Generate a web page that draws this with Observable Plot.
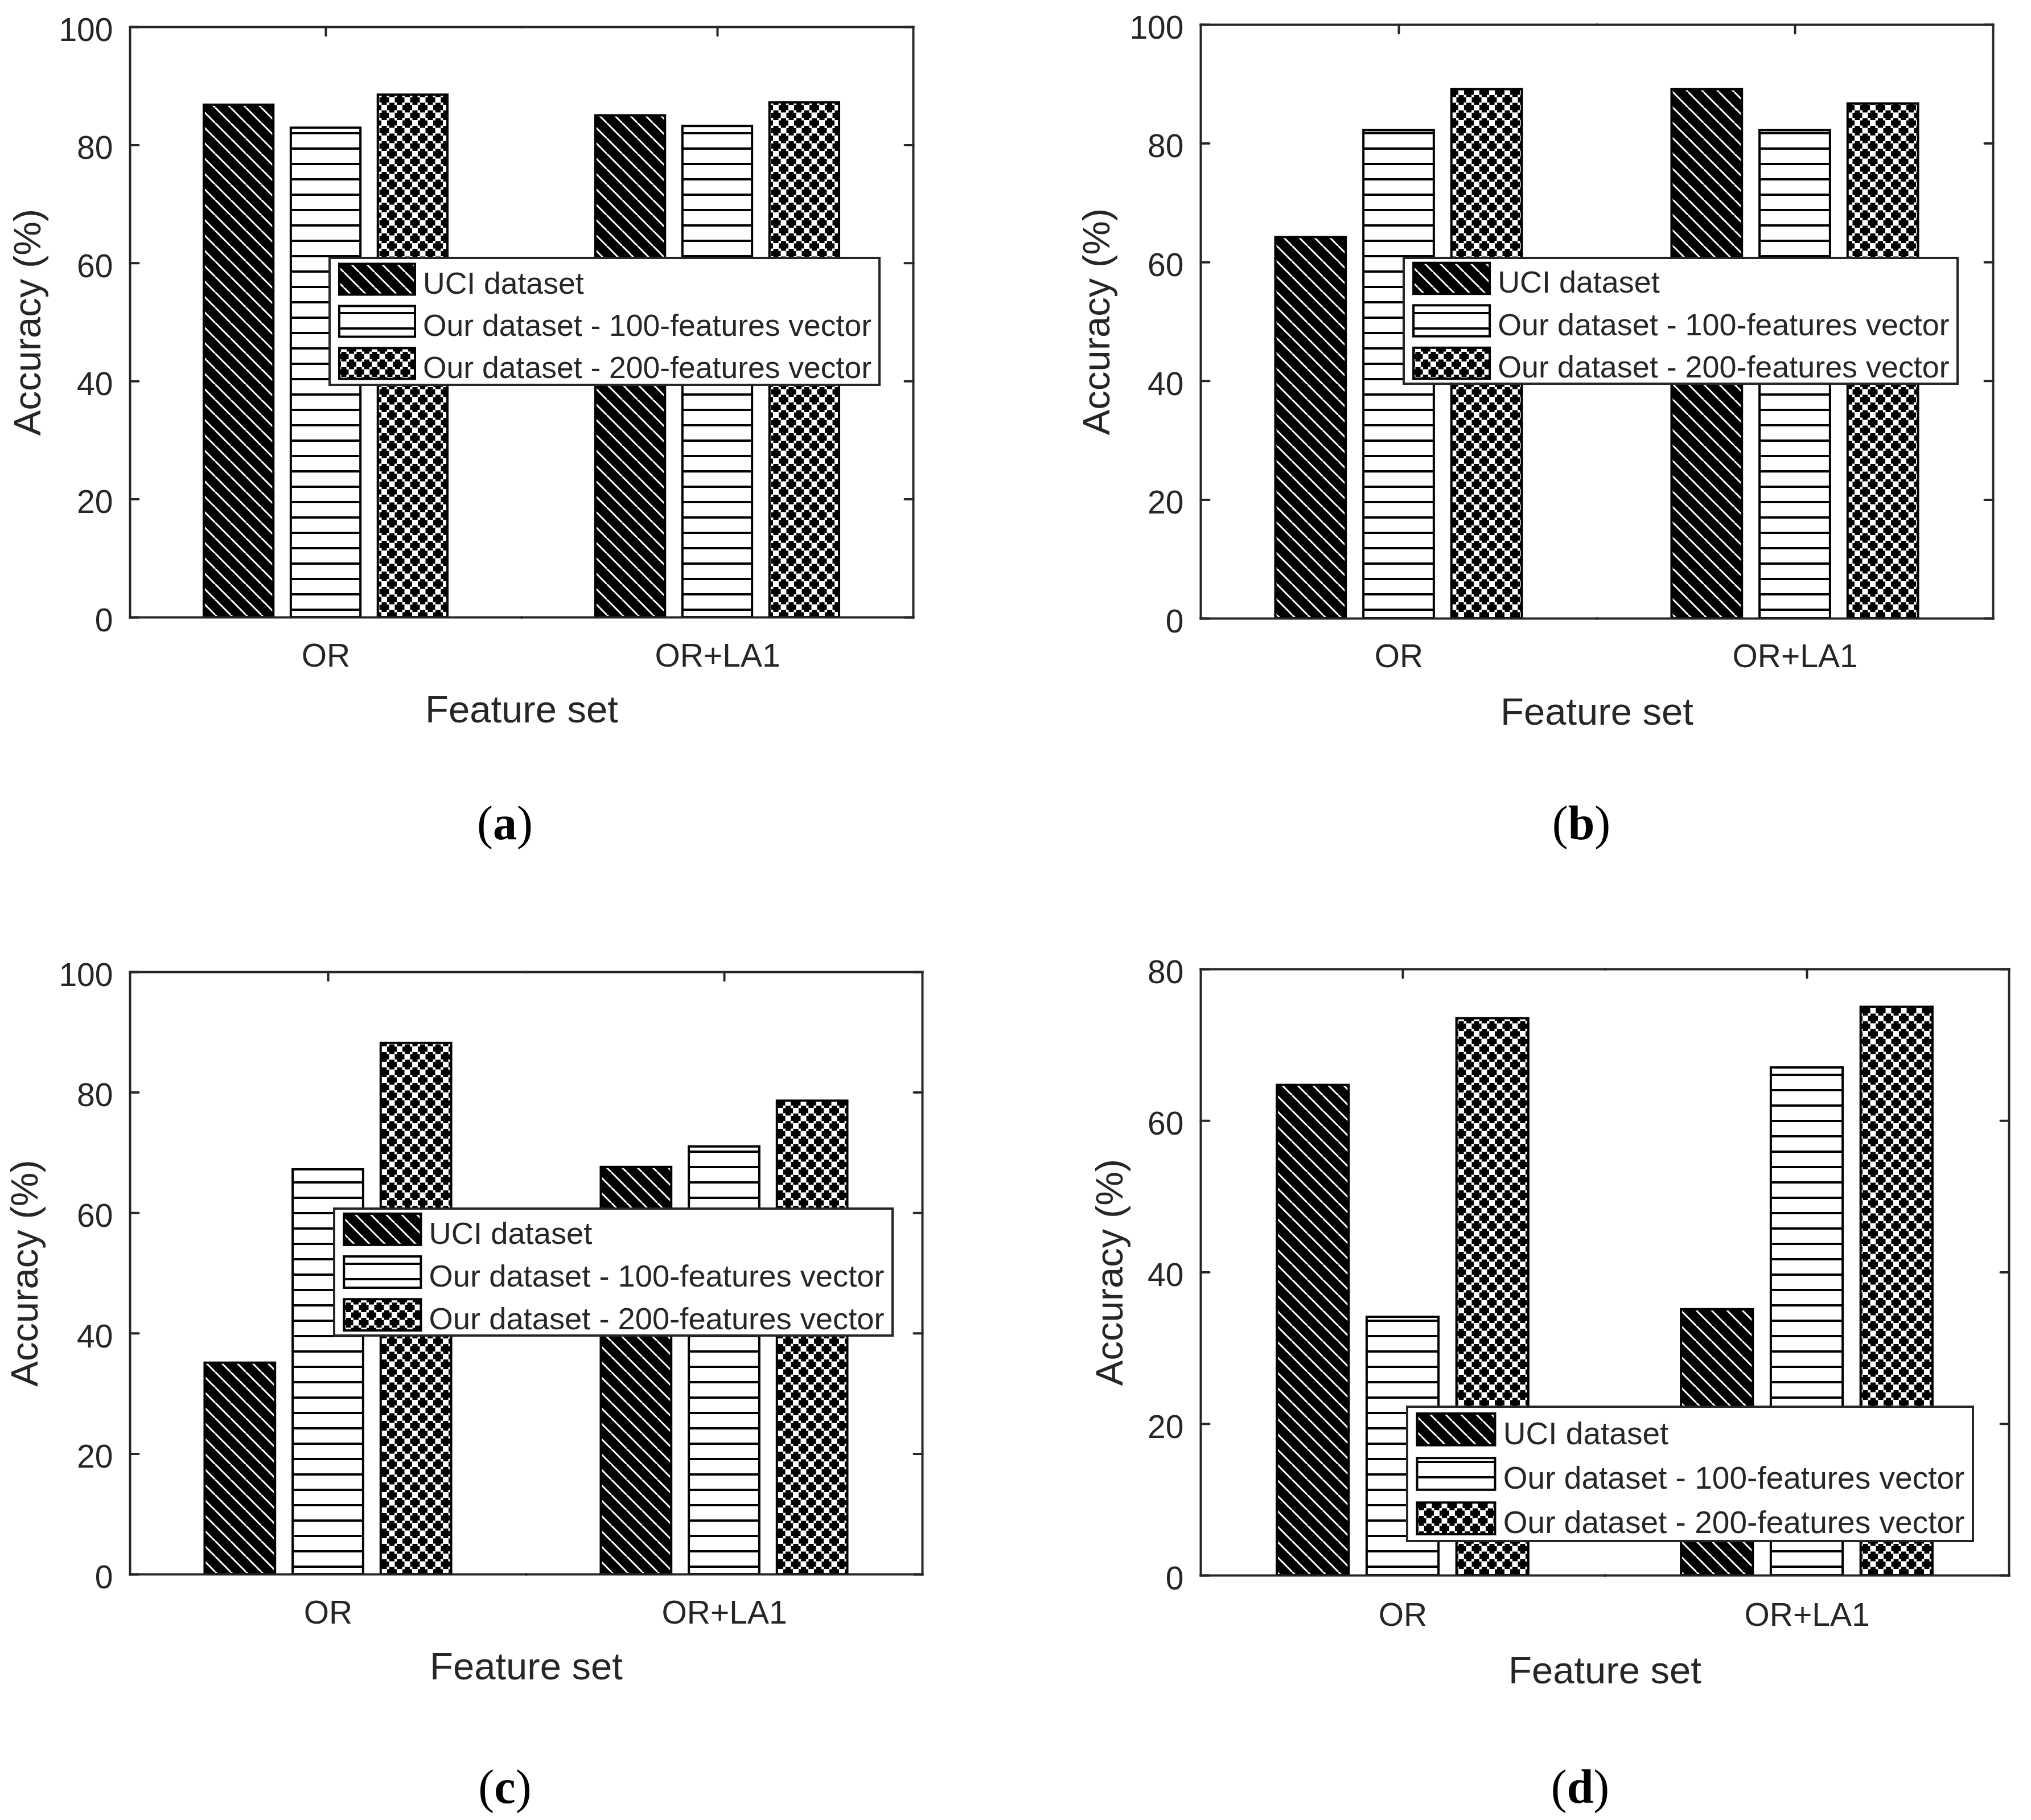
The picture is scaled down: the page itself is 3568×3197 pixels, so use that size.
<!DOCTYPE html>
<html>
<head>
<meta charset="utf-8">
<script src="https://cdn.jsdelivr.net/npm/d3@7"></script>
<script src="https://cdn.jsdelivr.net/npm/@observablehq/plot@0.6"></script>
<style>
html, body { margin: 0; padding: 0; background: #fff; }
#page { position: relative; width: 3568px; height: 3197px; background: #fff; overflow: hidden; }
.panel { position: absolute; }
.legend { position: absolute; }
.cap { position: absolute; font-family: "Liberation Serif", "Times New Roman", serif; font-size: 84px; line-height: 84px; color: #000; white-space: nowrap; transform: translateX(-50%); }
</style>
</head>
<body>
<div id="page">
<svg id="defs" width="0" height="0" style="position:absolute;left:0;top:0">
  <defs>
    <pattern id="pDiag" patternUnits="userSpaceOnUse" width="27" height="27">
      <rect width="27" height="27" fill="#000"/>
      <path d="M0,0L27,27M-27,0L0,27M27,0L54,27" stroke="#fff" stroke-width="3" fill="none"/>
    </pattern>
    <pattern id="pHoriz" patternUnits="userSpaceOnUse" width="27" height="27">
      <rect width="27" height="27" fill="#fff"/>
      <rect y="16" width="27" height="4" fill="#000"/>
    </pattern>
    <pattern id="pCross" patternUnits="userSpaceOnUse" width="27" height="27">
      <rect width="27" height="27" fill="#000"/>
      <g fill="#fff">
        <rect x="-5" y="-5" width="10" height="10"/>
        <rect x="22" y="-5" width="10" height="10"/>
        <rect x="-5" y="22" width="10" height="10"/>
        <rect x="22" y="22" width="10" height="10"/>
        <rect x="8.5" y="8.5" width="10" height="10"/>
        <rect x="4.5" y="4.5" width="4.5" height="4.5"/>
        <rect x="18" y="4.5" width="4.5" height="4.5"/>
        <rect x="4.5" y="18" width="4.5" height="4.5"/>
        <rect x="18" y="18" width="4.5" height="4.5"/>
      </g>
    </pattern>
  </defs>
</svg>
</div>
<script>
// ---------------- data ----------------
const groups = ["OR", "OR+LA1"];
const seriesNames = ["UCI dataset", "Our dataset - 100-features vector", "Our dataset - 200-features vector"];
const patternFills = ["url(#pDiag)", "url(#pHoriz)", "url(#pCross)"];

// (a)
const uciA = [86.8, 85.0];
const f100A = [82.9, 83.2];
const f200A = [88.5, 87.2];
// (b)
const uciB = [64.2, 89.1];
const f100B = [82.2, 82.2];
const f200B = [89.1, 86.7];
// (c)
const uciC = [35.1, 67.6];
const f100C = [67.2, 71.0];
const f200C = [88.2, 78.6];
// (d)
const uciD = [64.7, 35.1];
const f100D = [34.1, 67.0];
const f200D = [73.5, 75.0];

const yTicks100 = [0, 20, 40, 60, 80, 100];
const yTicks80 = [0, 20, 40, 60, 80];
const yTitle = "Accuracy (%)";
const xTitle = "Feature set";
const captionLetters = ["a", "b", "c", "d"];

function rows(uci, f100, f200) {
  const vals = [uci, f100, f200];
  return groups.flatMap((g, i) => seriesNames.map((s, k) => ({group: g, series: s, value: vals[k][i]})));
}

// ---------------- layout ----------------
const ink = "#262626";
const panels = [
  {data: rows(uciA, f100A, f200A), ymax: 100, ticks: yTicks100, left: 0, top: 0,
   ml: 228, mr: 180, mt: 47, mb: 216, ylo: 205, xlo: 184, fxp: 46,
   legend: {x: 577, y: 451, w: 970, h: 227}, cap: {x: 887, top: 1404}},
  {data: rows(uciB, f100B, f200B), ymax: 100, ticks: yTicks100, left: 1784, top: 0,
   ml: 325, mr: 67, mt: 43, mb: 214, ylo: 208, xlo: 186, fxp: 45,
   legend: {x: 2464, y: 451, w: 977, h: 225}, cap: {x: 2778, top: 1404}},
  {data: rows(uciC, f100C, f200C), ymax: 100, ticks: yTicks100, left: 0, top: 1600,
   ml: 228, mr: 164, mt: 107, mb: 135, ylo: 210, xlo: 184, fxp: 46,
   legend: {x: 585, y: 2121, w: 985, h: 227}, cap: {x: 887, top: 3097}},
  {data: rows(uciD, f100D, f200D), ymax: 80, ticks: yTicks80, left: 1784, top: 1600,
   ml: 325, mr: 39, mt: 102, mb: 133, ylo: 185, xlo: 189, fxp: 48,
   legend: {x: 2470, y: 2469, w: 998, h: 240}, cap: {x: 2776, top: 3097}}
];

const tickShape = {draw(c, l) { c.moveTo(0, 0); c.lineTo(0, -l); }};

function makePlot(p) {
  return Plot.plot({
    width: 1784, height: 1300,
    marginLeft: p.ml, marginRight: p.mr, marginTop: p.mt, marginBottom: p.mb,
    style: {fontFamily: "'Liberation Sans', Arial, Helvetica, sans-serif", color: ink, background: "white", overflow: "visible"},
    fx: {domain: groups, padding: 0, round: false},
    x: {domain: seriesNames, paddingInner: 0.2, paddingOuter: 0.85, round: false, axis: null},
    y: {domain: [0, p.ymax]},
    color: {type: "ordinal", domain: seriesNames, range: patternFills},
    marks: [
      Plot.barY(p.data, {fx: "group", x: "series", y: "value", fill: "series", stroke: "#000", strokeWidth: 4}),
      Plot.vector(p.ticks, {y: d => d, frameAnchor: "left", facetAnchor: "left", length: 15, rotate: 90, anchor: "start", shape: tickShape, stroke: ink, strokeWidth: 4}),
      Plot.vector(p.ticks, {y: d => d, frameAnchor: "right", facetAnchor: "right", length: 15, rotate: -90, anchor: "start", shape: tickShape, stroke: ink, strokeWidth: 4}),
      Plot.vector(groups, {fx: d => d, frameAnchor: "top", length: 15, rotate: 180, anchor: "start", shape: tickShape, stroke: ink, strokeWidth: 4}),
      Plot.axisY(p.ticks, {anchor: "left", tickSize: 0, tickPadding: 30, fontSize: 57, dy: 6, label: null}),
      Plot.axisY([], {anchor: "left", tickSize: 0, label: yTitle, labelAnchor: "center", labelOffset: p.ylo, labelArrow: false, fontSize: 67}),
      Plot.axisFx({anchor: "bottom", tickSize: 0, tickPadding: p.fxp, fontSize: 57, label: null}),
      Plot.axisFx([], {anchor: "bottom", tickSize: 0, label: xTitle, labelAnchor: "center", labelOffset: p.xlo, labelArrow: false, fontSize: 67}),
      Plot.frame({anchor: "top", stroke: ink, strokeWidth: 4, strokeLinecap: "square"}),
      Plot.frame({anchor: "bottom", stroke: ink, strokeWidth: 4, strokeLinecap: "square"}),
      Plot.frame({anchor: "left", facetAnchor: "left", stroke: ink, strokeWidth: 4, strokeLinecap: "square"}),
      Plot.frame({anchor: "right", facetAnchor: "right", stroke: ink, strokeWidth: 4, strokeLinecap: "square"})
    ]
  });
}

function legendSvg(b) {
  const s = b.w / 970;
  const fs = 53.5 * s;
  const pitch = (b.h - 227 * s) > 6 ? 76 * s : 74 * s;
  const NS = "http://www.w3.org/2000/svg";
  const svg = document.createElementNS(NS, "svg");
  svg.setAttribute("width", b.w);
  svg.setAttribute("height", b.h);
  svg.setAttribute("class", "legend");
  svg.style.left = b.x + "px";
  svg.style.top = b.y + "px";
  const box = document.createElementNS(NS, "rect");
  box.setAttribute("x", 2); box.setAttribute("y", 2);
  box.setAttribute("width", b.w - 4); box.setAttribute("height", b.h - 4);
  box.setAttribute("fill", "#fff"); box.setAttribute("stroke", ink); box.setAttribute("stroke-width", 4);
  svg.appendChild(box);
  seriesNames.forEach((name, i) => {
    const cy = b.h / 2 + (i - 1) * pitch;
    const r = document.createElementNS(NS, "rect");
    r.setAttribute("x", 17 * s + 2);
    r.setAttribute("y", cy - 29 * s + 2);
    r.setAttribute("width", 137 * s - 4);
    r.setAttribute("height", 58 * s - 4);
    r.setAttribute("fill", patternFills[i]);
    r.setAttribute("stroke", "#000");
    r.setAttribute("stroke-width", 4);
    svg.appendChild(r);
    const t = document.createElementNS(NS, "text");
    t.setAttribute("x", 166 * s);
    t.setAttribute("y", cy + 6 * s + 0.358 * fs);
    t.setAttribute("font-family", "'Liberation Sans', Arial, Helvetica, sans-serif");
    t.setAttribute("font-size", fs);
    t.setAttribute("fill", ink);
    t.textContent = name;
    svg.appendChild(t);
  });
  return svg;
}

const page = document.getElementById("page");
panels.forEach((p, i) => {
  const div = document.createElement("div");
  div.className = "panel";
  div.style.left = p.left + "px";
  div.style.top = p.top + "px";
  div.appendChild(makePlot(p));
  page.appendChild(div);
  page.appendChild(legendSvg(p.legend));
  const cap = document.createElement("div");
  cap.className = "cap";
  cap.style.left = p.cap.x + "px";
  cap.style.top = p.cap.top + "px";
  cap.innerHTML = "(<b>" + captionLetters[i] + "</b>)";
  page.appendChild(cap);
});
</script>
</body>
</html>
